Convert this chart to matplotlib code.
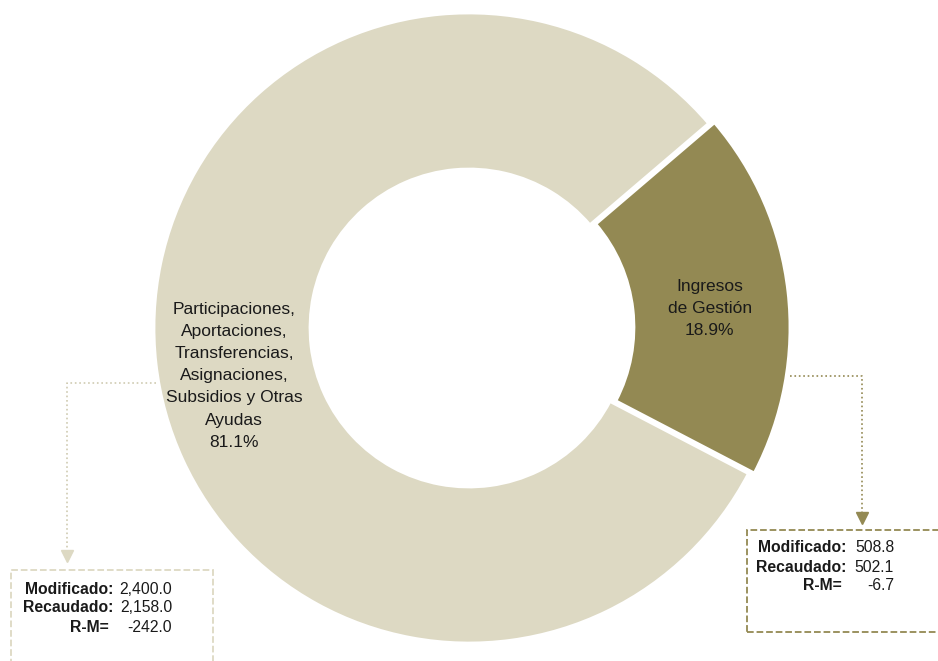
import numpy as np
import matplotlib.pyplot as plt
from matplotlib.patches import Rectangle

plt.rcParams['font.family'] = ['Liberation Sans', 'DejaVu Sans']

# datos
etiquetas = ['Ingresos\nde Gestión',
             'Participaciones,\nAportaciones,\nTransferencias,\nAsignaciones,\nSubsidios y Otras\nAyudas']
porcentajes = [18.9, 81.1]
modificado = [508.8, 2400.0]
recaudado = [502.1, 2158.0]
colores = ['#938953', '#DDD9C3']

fig = plt.figure(figsize=(9.38, 6.61), dpi=100)
ax = fig.add_axes([0, 0, 1, 1])

cx, cy, r = 469, 333, 315
# explode va en unidades de datos (pixeles aqui)
wedges, _ = ax.pie(porcentajes, colors=colores, startangle=40.5, counterclock=False,
                   center=(cx, cy), radius=r, frame=True, explode=[6, 0],
                   wedgeprops=dict(width=r - 159, edgecolor='white', linewidth=2))
ax.set_xlim(0, 938)
ax.set_ylim(0, 661)
ax.set_aspect('equal')
ax.axis('off')

# etiquetas dentro de las porciones
ajustes = [(0, -8), (0, -21)]
for w, lab, p, (dx, dy) in zip(wedges, etiquetas, porcentajes, ajustes):
    ang = np.deg2rad((w.theta1 + w.theta2) / 2)
    x = w.center[0] + 0.75 * r * np.cos(ang) + dx
    y = w.center[1] + 0.75 * r * np.sin(ang) + dy
    ax.text(x, y, f'{lab}\n{p:.1f}%', ha='center', va='center', fontsize=12.5,
            linespacing=1.6, color='#1a1a1a')

# conectores
ax.plot([790, 862, 862], [661 - 376, 661 - 376, 661 - 516], color='#938953',
        linestyle=':', linewidth=1.2)
ax.plot([862], [661 - 518], marker='v', color='#938953', markersize=9)
ax.plot([156, 67, 67], [661 - 383, 661 - 383, 661 - 553], color='#CFCBB2',
        linestyle=':', linewidth=1.2)
ax.plot([67], [661 - 556], marker='v', color='#DDD9C3', markersize=9)

# cuadros
ax.add_patch(Rectangle((747, 661 - 632), 250, 102, fill=False, edgecolor='#938953',
                       linestyle='--', linewidth=1.3))
ax.add_patch(Rectangle((11, -20), 202, 661 - 570 + 20, fill=False, edgecolor='#DDD9C3',
                       linestyle='--', linewidth=1.3))

def cuadro(xl, xv, y0, mod, rec):
    filas = [('Modificado:', mod, xl), ('Recaudado:', rec, xl), ('R-M=', rec - mod, xl - 4)]
    for i, (t, v, xx) in enumerate(filas):
        yy = 661 - (y0 + i * 19)
        ax.text(xx, yy, t, ha='right', va='center', fontsize=11.3, fontweight='bold',
                color='#1a1a1a')
        ax.text(xv, yy, f'{v:,.1f}', ha='right', va='center', fontsize=11.3, color='#1a1a1a')

cuadro(846, 894, 548, modificado[0], recaudado[0])
cuadro(113, 172, 589, modificado[1], recaudado[1])

fig.savefig('out.png', dpi=100)
